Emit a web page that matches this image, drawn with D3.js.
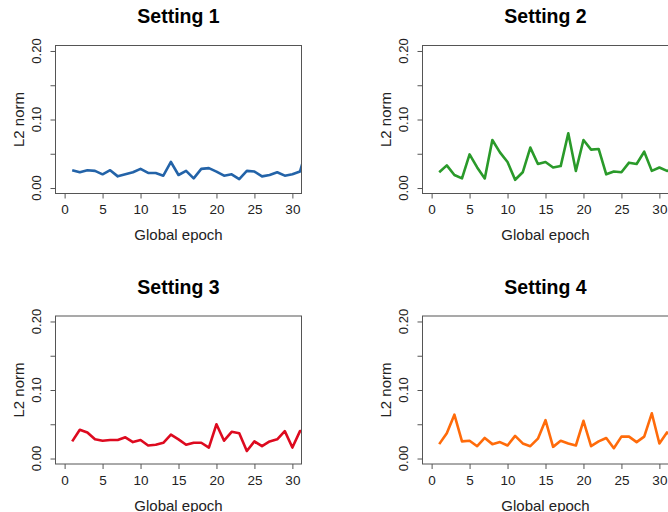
<!DOCTYPE html>
<html>
<head>
<meta charset="utf-8">
<script src="https://cdn.jsdelivr.net/npm/d3@7"></script>
<style>
  body { margin: 0; background: #fff; }
  svg { display: block; font-family: "Liberation Sans", Arial, Helvetica, sans-serif; }
</style>
</head>
<body>
<svg id="chart" width="668" height="512"></svg>
<script>
// epochs 1..32 (the last one runs past the plot edge and gets clipped)
const epochs = d3.range(1, 33);

const setting1 = [0.026, 0.023, 0.026, 0.025, 0.020, 0.026, 0.017, 0.020, 0.023, 0.028,
                  0.022, 0.022, 0.018, 0.038, 0.019, 0.025, 0.014, 0.028, 0.029, 0.024,
                  0.018, 0.020, 0.013, 0.025, 0.024, 0.017, 0.019, 0.023, 0.018, 0.020,
                  0.024, 0.062];
const setting2 = [0.023, 0.033, 0.019, 0.014, 0.049, 0.030, 0.014, 0.070, 0.052, 0.038,
                  0.012, 0.023, 0.059, 0.035, 0.038, 0.030, 0.032, 0.080, 0.025, 0.070,
                  0.056, 0.057, 0.020, 0.024, 0.023, 0.037, 0.035, 0.053, 0.025, 0.030,
                  0.025, 0.028];
const setting3 = [0.025, 0.042, 0.038, 0.028, 0.026, 0.027, 0.027, 0.031, 0.024, 0.027,
                  0.019, 0.020, 0.023, 0.035, 0.028, 0.020, 0.023, 0.023, 0.016, 0.050,
                  0.026, 0.039, 0.037, 0.011, 0.025, 0.018, 0.025, 0.028, 0.040, 0.016,
                  0.040, 0.040];
const setting4 = [0.021, 0.037, 0.064, 0.025, 0.026, 0.018, 0.030, 0.021, 0.024, 0.019,
                  0.033, 0.022, 0.018, 0.029, 0.056, 0.017, 0.026, 0.022, 0.019, 0.055,
                  0.018, 0.025, 0.030, 0.015, 0.032, 0.032, 0.024, 0.032, 0.066, 0.022,
                  0.038, 0.030];

const titles = ["Setting 1", "Setting 2", "Setting 3", "Setting 4"];
const seriesList = [setting1, setting2, setting3, setting4];
const colors = ["#2363a8", "#2a9a2a", "#dd0a1f", "#ff6b0a"];
const xTicks = [0, 5, 10, 15, 20, 25, 30];
const yTicks = [0, 0.05, 0.10, 0.15, 0.20];
const yLabelTicks = [0, 0.10, 0.20];

const svg = d3.select("#chart");

// panel box: left / top corner of each plot region
const panelW = 246, panelH = 148;
const origins = [[55.5, 45.5], [422.5, 45.5], [55.5, 316], [422.5, 316]];

seriesList.forEach((values, i) => {
    const [ox, oy] = origins[i];
    const g = svg.append("g").attr("transform", `translate(${ox}, ${oy})`);

    // R style: xlim c(0,30), ylim c(0,0.2), extended by 4%
    const x = d3.scaleLinear().domain([-1.2, 31.2]).range([0, panelW]);
    const y = d3.scaleLinear().domain([-0.008, 0.208]).range([panelH, 0]);

    const clipId = "clip" + i;
    g.append("clipPath").attr("id", clipId)
      .append("rect").attr("width", panelW).attr("height", panelH);

    const line = d3.line()
        .x((d, j) => x(epochs[j]))
        .y(d => y(d));

    g.append("path")
      .datum(values)
      .attr("clip-path", `url(#${clipId})`)
      .attr("fill", "none")
      .attr("stroke", colors[i])
      .attr("stroke-width", 2.6)
      .attr("stroke-linejoin", "round")
      .attr("d", line);

    // box
    g.append("rect")
      .attr("width", panelW).attr("height", panelH)
      .attr("fill", "none").attr("stroke", "#555").attr("stroke-width", 1);

    // x axis
    const xAxis = g.append("g").attr("transform", `translate(0, ${panelH})`)
      .call(d3.axisBottom(x).tickValues(xTicks).tickSize(5).tickPadding(6).tickFormat(d3.format("d")));
    xAxis.select(".domain").remove();
    xAxis.selectAll("line").attr("stroke", "#555");
    xAxis.selectAll("text")
      .attr("fill", "#222")
      .style("font-size", "13.5px");

    // y axis, labels rotated like R's default las=0
    const yAxis = g.append("g")
      .call(d3.axisLeft(y).tickValues(yTicks).tickSize(5).tickFormat(""));
    yAxis.select(".domain").remove();
    yAxis.selectAll("line").attr("stroke", "#555");

    g.selectAll(".ylab")
      .data(yLabelTicks)
      .enter().append("text")
      .attr("class", "ylab")
      .attr("transform", d => `translate(-15, ${y(d)}) rotate(-90)`)
      .attr("text-anchor", "middle")
      .attr("fill", "#222")
      .style("font-size", "13px")
      .text(d => d3.format(".2f")(d));

    // axis titles
    g.append("text")
      .attr("x", panelW / 2)
      .attr("y", panelH + 46.5)
      .attr("text-anchor", "middle")
      .attr("fill", "#222")
      .style("font-size", "15px")
      .text("Global epoch");

    g.append("text")
      .attr("transform", `translate(-31.5, ${panelH / 2}) rotate(-90)`)
      .attr("text-anchor", "middle")
      .attr("fill", "#222")
      .style("font-size", "15px")
      .text("L2 norm");

    // panel title
    g.append("text")
      .attr("x", panelW / 2)
      .attr("y", -22.5)
      .attr("text-anchor", "middle")
      .attr("fill", "#000")
      .style("font-size", "19.5px")
      .style("font-weight", "bold")
      .text(titles[i]);
});
</script>
</body>
</html>
